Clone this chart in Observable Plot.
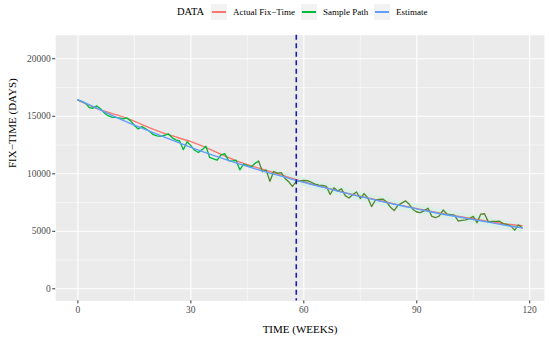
<!DOCTYPE html>
<html><head><meta charset="utf-8">
<script src="https://cdn.jsdelivr.net/npm/d3@7"></script>
<script src="https://cdn.jsdelivr.net/npm/@observablehq/plot@0.6"></script>
<style>
body{margin:0;background:#fff;font-family:"Liberation Serif",serif;}
#legend{position:relative;height:28px;width:550px;}
#legend span{position:absolute;white-space:nowrap;line-height:1;}
#legend .ttl{font-size:10.5px;color:#000;top:7px;}
#legend .lab{font-size:9px;color:#000;top:8px;}
#legend .key{width:16px;height:16px;background:#F2F2F2;top:4px;}
#legend .key i{position:absolute;left:1px;right:1px;top:7.3px;height:1.4px;}
g[aria-label="x-axis tick label"], g[aria-label="y-axis tick label"]{fill:#4d4d4d;}
g[aria-label="x-axis tick"], g[aria-label="y-axis tick"]{stroke:#333333;}
</style></head><body>
<div id="legend"></div>
<div id="chart"></div>
<script>
// ---- data ----
const seriesNames = ["Actual Fix\u2212Time", "Sample Path", "Estimate"];
const seriesColors = ["#F8766D", "#00BA38", "#619CFF"];
const legendTitle = "DATA";
const xTitle = "TIME (WEEKS)";
const yTitle = "FIX\u2212TIME (DAYS)";
const xTicks = [0, 30, 60, 90, 120];
const xMinor = [15, 45, 75, 105];
const yTicks = [0, 5000, 10000, 15000, 20000];
const yMinor = [2500, 7500, 12500, 17500];
const cutoffWeek = [58];
const splitWeek = 48;

// sample path, one value per week (week 0..118)
const sampleValues = [
16400,16300,16150,15750,15700,15900,15650,15300,15050,14920,
14900,14860,14780,14850,14600,14200,13900,14100,13900,13700,
13400,13300,13250,13350,13480,13150,12950,12850,12100,12780,
12450,12050,11850,12100,12400,11420,11300,11180,11650,11750,
11150,11100,11180,10350,10850,10720,10600,10900,11100,10200,
10320,9350,10200,10050,10100,9600,9300,8900,9350,9380,
9420,9400,9250,9100,9020,9000,8900,8200,8780,8500,
8700,8100,7900,8200,8420,7850,8280,7900,7150,7700,
7780,7800,7550,7100,6800,7250,7450,7650,7350,6900,
6680,6620,6800,7000,6300,6180,6350,6850,6500,6450,
6400,5900,5950,6000,6100,6300,5750,6500,6530,5820,
5860,5870,5880,5650,5600,5450,5100,5550,5300];

// smooth curves
const smoothWeeks   = [0,6,12,18,24,30,36,42,48,54,60,66,72,78,84,90,96,102,108,114,118];
const actualValues  = [16400,15550,14950,14150,13400,12800,12000,11150,10500,9900,9300,8780,8280,7830,7380,6980,6590,6250,5920,5620,5500];
const estimateValues= [16450,15550,14650,13850,13050,12300,11600,10950,10350,9800,9250,8750,8250,7800,7350,6950,6550,6200,5850,5500,5300];

// faint band around the estimate after the split
const bandWeeks = [48,54,60,66,72,78,84,90,96,102,108,114,118];
const bandLow   = [10150,9400,8850,8350,7850,7400,6950,6550,6150,5800,5450,5100,4900];
const bandHigh  = [10550,10200,9650,9150,8650,8200,7750,7350,6950,6600,6250,5900,5700];

// ---- tables ----
const sample = sampleValues.map((v, i) => ({week: i, value: v}));
const sampleA = sample.filter(d => d.week <= splitWeek);
const sampleB = sample.filter(d => d.week >= splitWeek);
const actual = smoothWeeks.map((w, i) => ({week: w, value: actualValues[i]}));
const estimate = smoothWeeks.map((w, i) => ({week: w, value: estimateValues[i]}));
const band = bandWeeks.map((w, i) => ({week: w, lo: bandLow[i], hi: bandHigh[i]}));

// ---- legend ----
const lg = document.getElementById("legend");
const legendLayout = [
  {cls: "ttl", left: 177, text: legendTitle},
  {cls: "key", left: 211, color: 0},
  {cls: "lab", left: 233, text: seriesNames[0]},
  {cls: "key", left: 301, color: 1},
  {cls: "lab", left: 323, text: seriesNames[1]},
  {cls: "key", left: 374, color: 2},
  {cls: "lab", left: 396, text: seriesNames[2]}
];
for (const it of legendLayout) {
  const s = document.createElement("span");
  s.className = it.cls;
  s.style.left = it.left + "px";
  if (it.cls === "key") {
    const i = document.createElement("i");
    i.style.background = seriesColors[it.color];
    s.appendChild(i);
  } else s.textContent = it.text;
  lg.appendChild(s);
}

// ---- plot ----
const plot = Plot.plot({
  width: 550, height: 314,
  marginTop: 6.7, marginBottom: 41.6, marginLeft: 55.2, marginRight: 6.1,
  style: {fontFamily: "'Liberation Serif', serif", background: "transparent", overflow: "visible"},
  x: {domain: [-5.9, 123.9], label: null},
  y: {domain: [-1050, 22050], label: null},
  marks: [
    Plot.frame({fill: "#EBEBEB", stroke: null}),
    Plot.ruleY(yMinor, {stroke: "#ffffff", strokeWidth: 0.55}),
    Plot.ruleX(xMinor, {stroke: "#ffffff", strokeWidth: 0.55}),
    Plot.ruleY(yTicks, {stroke: "#ffffff", strokeWidth: 1.1}),
    Plot.ruleX(xTicks, {stroke: "#ffffff", strokeWidth: 1.1}),
    Plot.areaY(band, {x: "week", y1: "lo", y2: "hi", fill: "#dcefe6", curve: "natural"}),
    Plot.line(actual, {x: "week", y: "value", stroke: seriesColors[0], strokeWidth: 1.35, curve: "natural"}),
    Plot.line(sampleA, {x: "week", y: "value", stroke: seriesColors[1], strokeWidth: 1.35}),
    Plot.line(sampleB, {x: "week", y: "value", stroke: "#55892f", strokeWidth: 1.35}),
    Plot.line(estimate, {x: "week", y: "value", stroke: seriesColors[2], strokeWidth: 1.35, curve: "natural"}),
    Plot.ruleX(cutoffWeek, {stroke: "#1c1ca8", strokeWidth: 1.6, strokeDasharray: "5,3.5"}),
    Plot.axisX({ticks: xTicks, tickSize: 3, tickPadding: 2, fontSize: 9.5, tickFormat: d => String(d)}),
    Plot.axisY({ticks: yTicks, tickSize: 3, tickPadding: 2, fontSize: 9.5, tickFormat: d => String(d)}),
    Plot.text([xTitle], {text: d => d, frameAnchor: "bottom", dy: 32.5, fontSize: 11, fill: "#000"}),
    Plot.text([yTitle], {text: d => d, frameAnchor: "left", dx: -43, rotate: -90, fontSize: 11, fill: "#000"})
  ]
});
document.getElementById("chart").appendChild(plot);
</script>
</body></html>
